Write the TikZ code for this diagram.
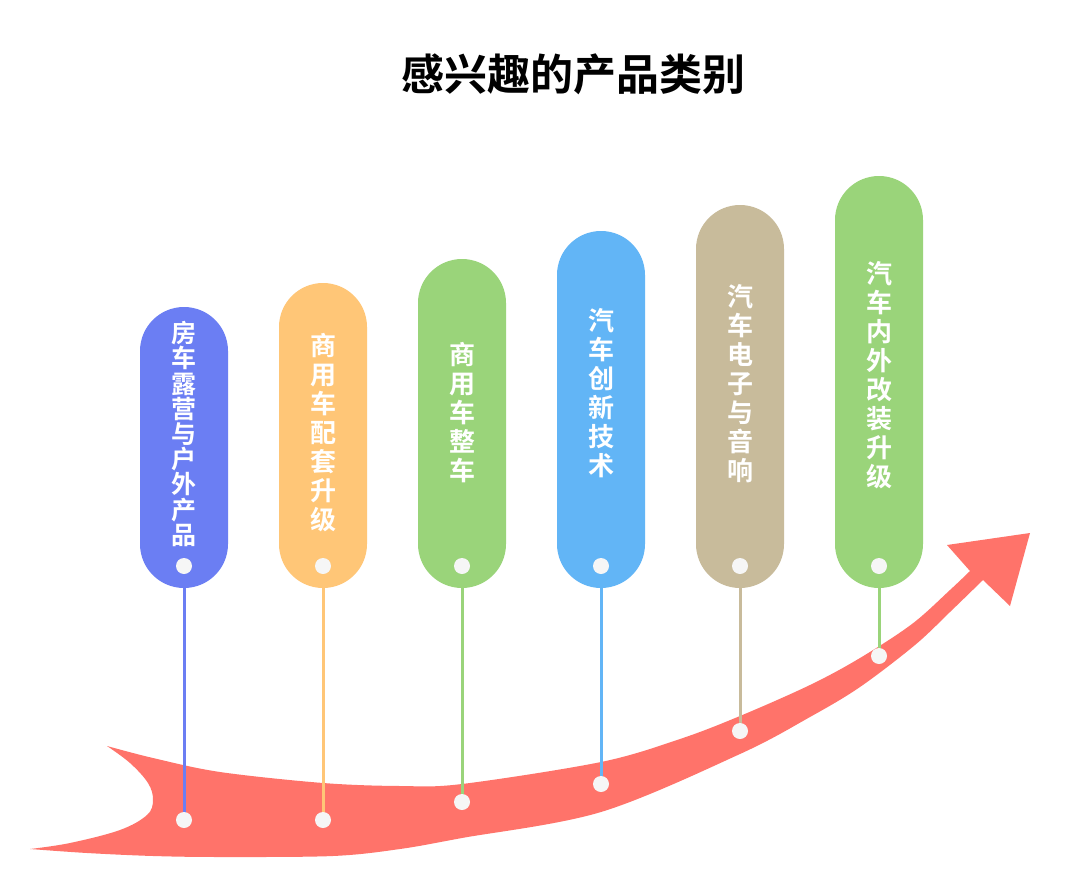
\documentclass[tikz,border=0pt]{standalone}
\usepackage{fontspec}
\newfontfamily\cjk{Noto Sans CJK SC}[BoldFont={Noto Sans CJK SC Bold}]
\definecolor{arrowred}{HTML}{FF736A}
\definecolor{cA}{HTML}{6B7EF3}
\definecolor{cB}{HTML}{FFC677}
\definecolor{cC}{HTML}{9AD47A}
\definecolor{cD}{HTML}{62B5F6}
\definecolor{cE}{HTML}{C8BB9B}
\definecolor{cF}{HTML}{9AD47A}
\definecolor{dotw}{HTML}{F6F6F6}
\tikzset{
  pill/.style={rounded corners=44pt, minimum width=88pt, inner sep=0pt, draw=none},
  vtext/.style={text=white, align=center, inner sep=0pt, font=\cjk\bfseries\fontsize{26}{29}\selectfont},
  vtextc/.style={text=white, align=center, inner sep=0pt, font=\cjk\bfseries\fontsize{25}{25.2}\selectfont},
  wdot/.style={circle, fill=dotw, minimum size=16pt, inner sep=0pt},
  stem/.style={line width=3pt},
  title/.style={font=\cjk\bfseries\fontsize{43}{50}\selectfont, text=black}
}
\begin{document}
\begin{tikzpicture}[x=1pt,y=-1pt]
\useasboundingbox (0,0) rectangle (1080,894);
\fill[white] (0,0) rectangle (1080,894);
\node[title] (title) at (573,74) {感兴趣的产品类别};
% arrow
\fill[arrowred] plot[smooth,tension=0.55] coordinates {(107,746) (153,758) (220,772) (323,783) (400,786) (462,784) (601,762) (680,739) (740,716) (810,685) (860,658) (912,624) (950,590) (970,571)}
  -- (947,545) -- (1030,533) -- (1010,606) -- (983,580)
  -- plot[smooth,tension=0.55] coordinates {(983,580) (950,612) (915,645) (860,687) (810,717) (740,754) (601,812) (462,838) (400,849) (333,856) (220,857) (153,856) (87,853) (30,849)}
  -- plot[smooth,tension=0.6] coordinates {(30,849) (70,843) (120,830) (147,815) (153,800) (148,783) (130,763) (107,746)} -- cycle;
% pills
\node[pill, fill=cA, minimum height=281pt] (p1) at (184,447.5) {};
\node[pill, fill=cB, minimum height=305pt] (p2) at (323,435.5) {};
\node[pill, fill=cC, minimum height=329pt] (p3) at (462,423.5) {};
\node[pill, fill=cD, minimum height=357pt] (p4) at (601,409.5) {};
\node[pill, fill=cE, minimum height=383pt] (p5) at (740,396.5) {};
\node[pill, fill=cF, minimum height=412pt] (p6) at (879,382) {};
% texts
\node[vtextc] (t1) at (184,434) {房\\车\\露\\营\\与\\户\\外\\产\\品};
\node[vtext] (t2) at (323,432.5) {商\\用\\车\\配\\套\\升\\级};
\node[vtext] (t3) at (462,412.5) {商\\用\\车\\整\\车};
\node[vtext] (t4) at (601,393) {汽\\车\\创\\新\\技\\术};
\node[vtext] (t5) at (740,383.5) {汽\\车\\电\\子\\与\\音\\响};
\node[vtext] (t6) at (879,375.5) {汽\\车\\内\\外\\改\\装\\升\\级};
% inner dots
\node[wdot] (d1) at (184,566) {};
\node[wdot] (d2) at (323,566) {};
\node[wdot] (d3) at (462,566) {};
\node[wdot] (d4) at (601,566) {};
\node[wdot] (d5) at (740,566) {};
\node[wdot] (d6) at (879,566) {};
% band dots coordinates
\coordinate (b1) at (184,820);
\coordinate (b2) at (323,820);
\coordinate (b3) at (462,802);
\coordinate (b4) at (601,784);
\coordinate (b5) at (740,731);
\coordinate (b6) at (879,656);
\draw[stem, cA] (p1.south) -- (b1);
\draw[stem, cB] (p2.south) -- (b2);
\draw[stem, cC] (p3.south) -- (b3);
\draw[stem, cD] (p4.south) -- (b4);
\draw[stem, cE] (p5.south) -- (b5);
\draw[stem, cF] (p6.south) -- (b6);
\node[wdot] (e1) at (b1) {};
\node[wdot] (e2) at (b2) {};
\node[wdot] (e3) at (b3) {};
\node[wdot] (e4) at (b4) {};
\node[wdot] (e5) at (b5) {};
\node[wdot] (e6) at (b6) {};
\end{tikzpicture}
\end{document}
